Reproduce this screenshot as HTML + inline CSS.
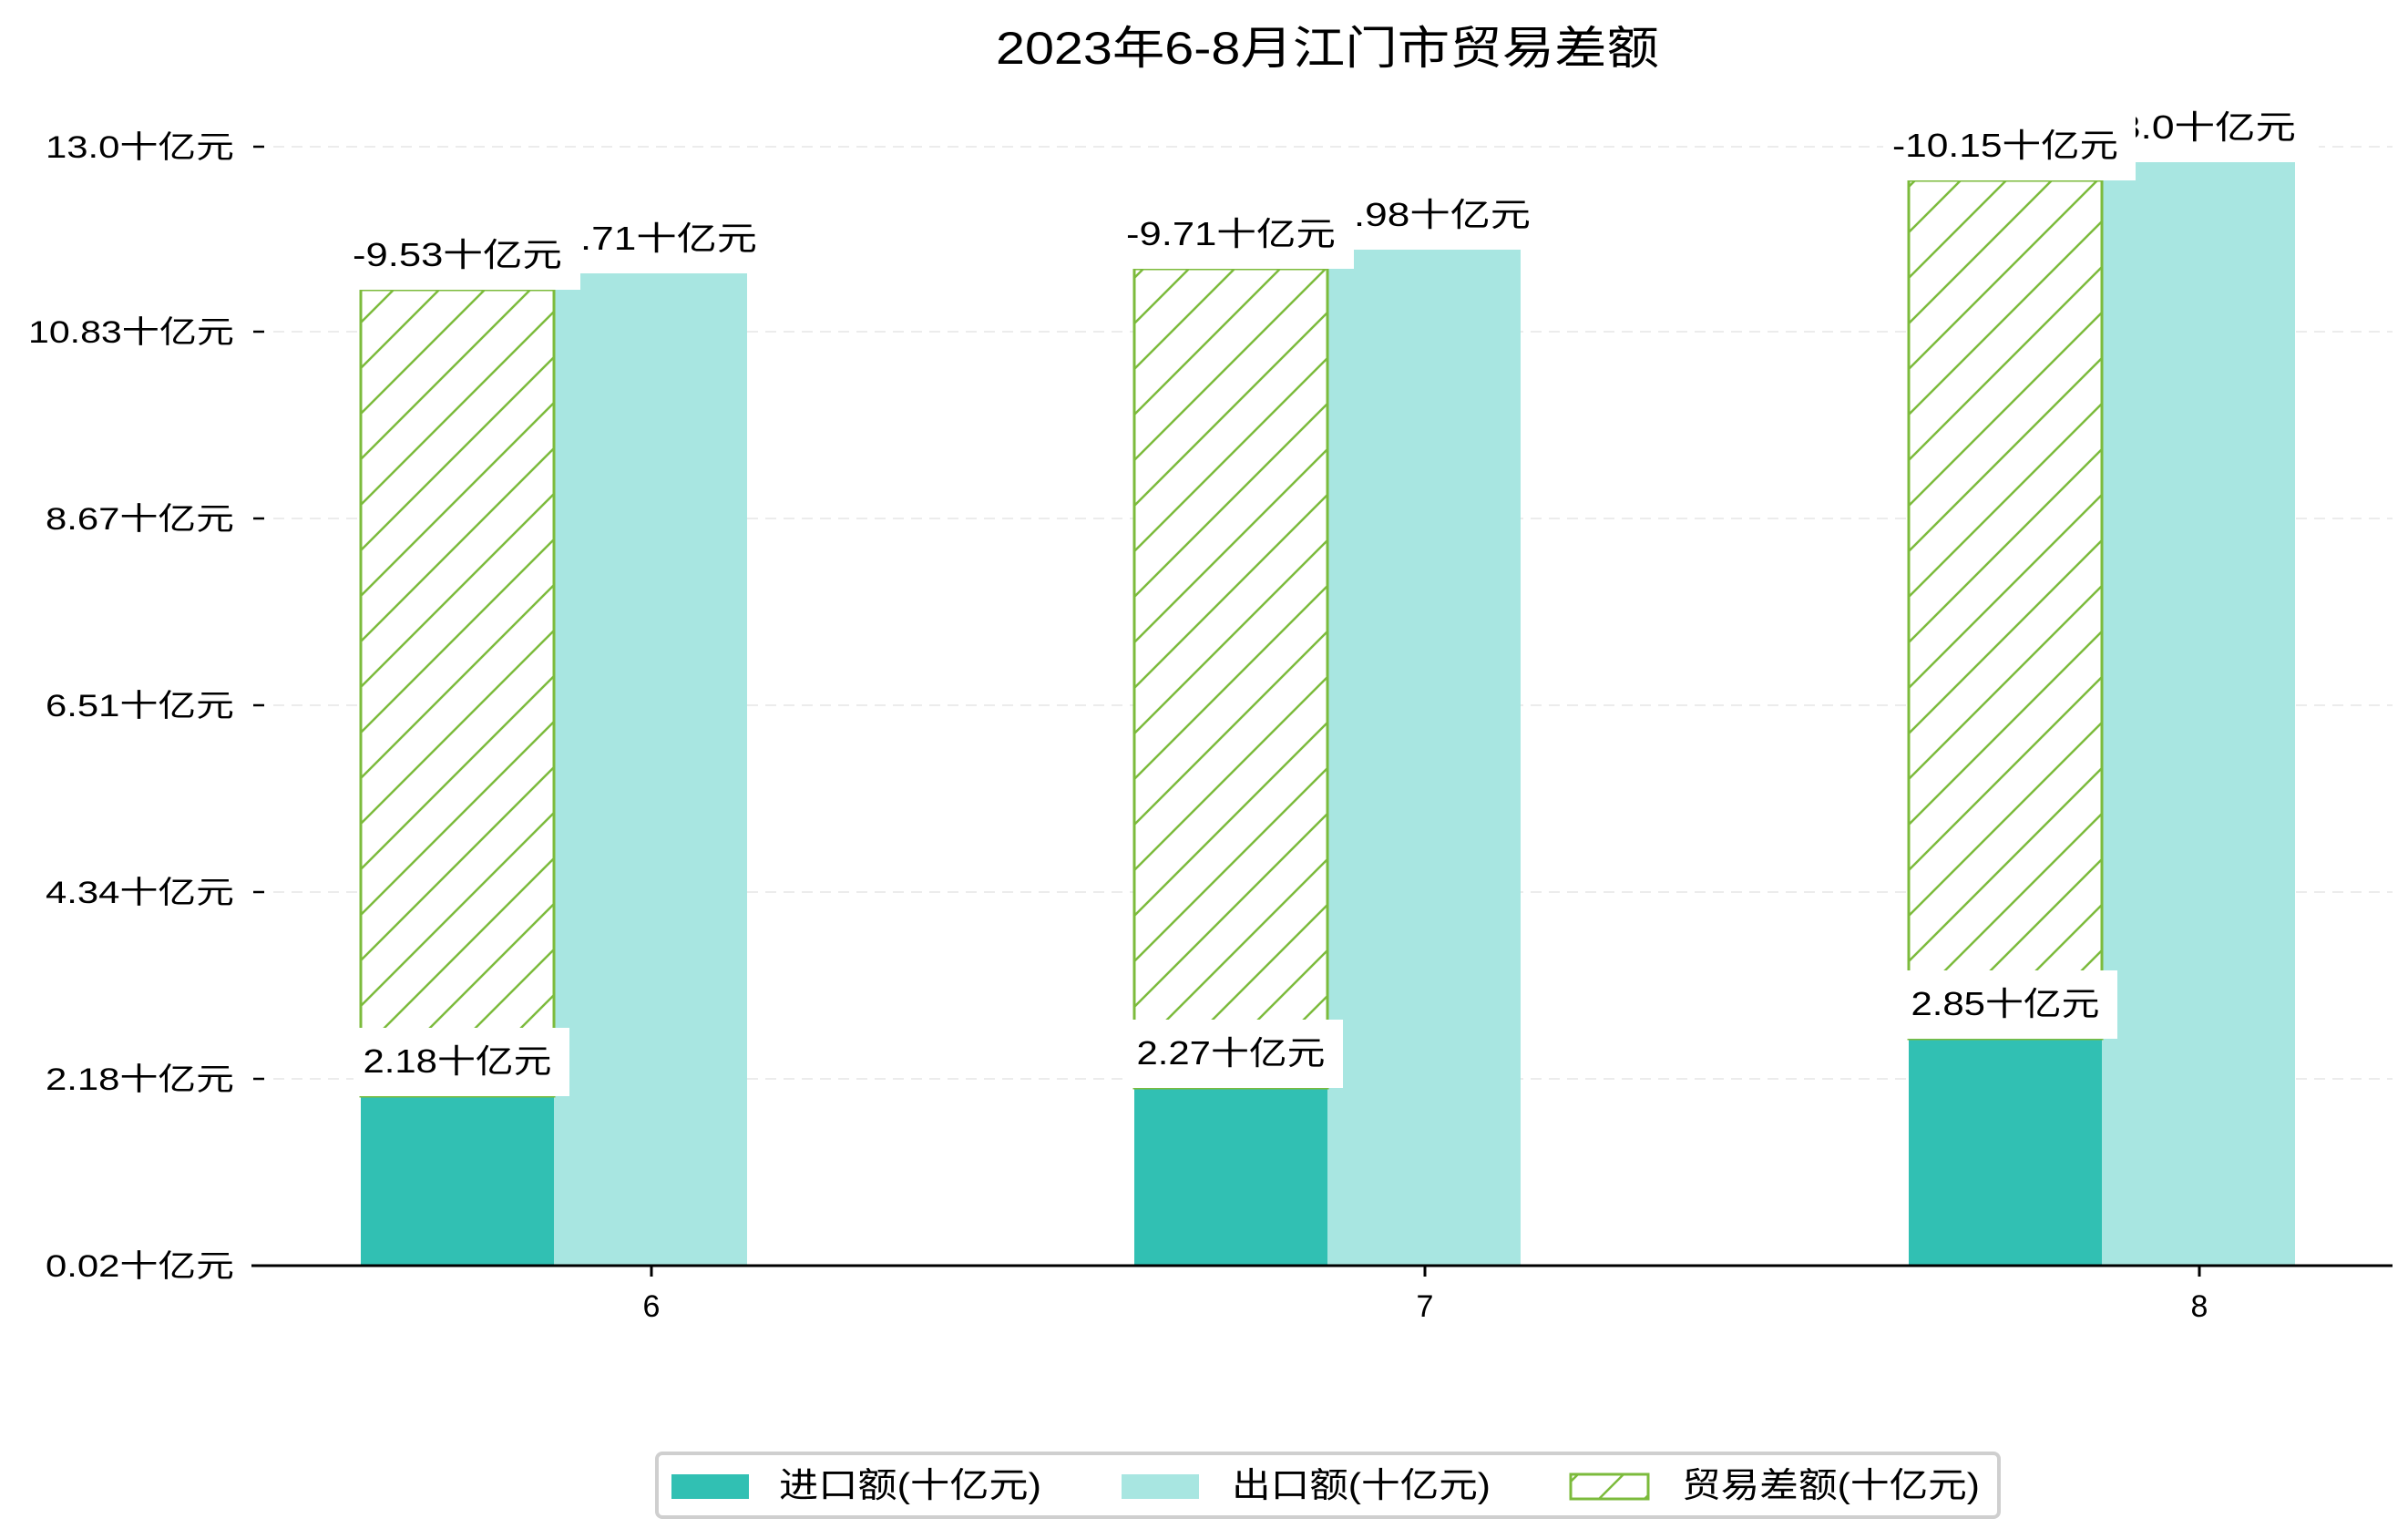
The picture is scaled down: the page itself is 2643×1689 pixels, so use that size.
<!DOCTYPE html>
<html><head><meta charset="utf-8"><style>
html,body{margin:0;padding:0;background:#fff}
svg{display:block}
text{font-family:"Liberation Sans","Noto Sans CJK SC",sans-serif;fill:#000}
</style></head><body>
<svg width="2643" height="1689" viewBox="0 0 2643 1689" xmlns="http://www.w3.org/2000/svg">
<defs>
<pattern id="h" patternUnits="userSpaceOnUse" width="50" height="50">
<rect width="50" height="50" fill="#fff"/>
<path d="M-10 10 L10 -10 M0 50 L50 0 M40 60 L60 40" stroke="#7cbb3c" stroke-width="2.5"/>
</pattern>
</defs>
<text x="1457" y="70" font-size="50" text-anchor="middle" textLength="728" lengthAdjust="spacingAndGlyphs">2023年6-8月江门市贸易差额</text>
<g stroke="#ececec" stroke-width="2" stroke-dasharray="12,8">
<line x1="300" x2="2626" y1="161" y2="161"/><line x1="300" x2="2626" y1="364" y2="364"/>
<line x1="300" x2="2626" y1="569" y2="569"/><line x1="300" x2="2626" y1="774" y2="774"/>
<line x1="300" x2="2626" y1="979" y2="979"/><line x1="300" x2="2626" y1="1184" y2="1184"/>
</g>
<g stroke="#000" stroke-width="2.5">
<line x1="278" x2="290" y1="161" y2="161"/><line x1="278" x2="290" y1="364" y2="364"/>
<line x1="278" x2="290" y1="569" y2="569"/><line x1="278" x2="290" y1="774" y2="774"/>
<line x1="278" x2="290" y1="979" y2="979"/><line x1="278" x2="290" y1="1184" y2="1184"/>
</g>
<g font-size="34" text-anchor="end">
<text x="257" y="173" textLength="207" lengthAdjust="spacingAndGlyphs">13.0十亿元</text>
<text x="257" y="376" textLength="226" lengthAdjust="spacingAndGlyphs">10.83十亿元</text>
<text x="257" y="581" textLength="207" lengthAdjust="spacingAndGlyphs">8.67十亿元</text>
<text x="257" y="786" textLength="207" lengthAdjust="spacingAndGlyphs">6.51十亿元</text>
<text x="257" y="991" textLength="207" lengthAdjust="spacingAndGlyphs">4.34十亿元</text>
<text x="257" y="1196" textLength="207" lengthAdjust="spacingAndGlyphs">2.18十亿元</text>
<text x="257" y="1401" textLength="207" lengthAdjust="spacingAndGlyphs">0.02十亿元</text>
</g>
<rect x="396" y="1203" width="212" height="186" fill="#31c0b3"/>
<rect x="608" y="300" width="212" height="1089" fill="#a8e6e1"/>
<rect x="396" y="318" width="212" height="885" fill="url(#h)" stroke="#7cbb3c" stroke-width="3"/>
<rect x="1245" y="1194" width="212" height="195" fill="#31c0b3"/>
<rect x="1457" y="274" width="212" height="1115" fill="#a8e6e1"/>
<rect x="1245" y="295" width="212" height="899" fill="url(#h)" stroke="#7cbb3c" stroke-width="3"/>
<rect x="2095" y="1140" width="212" height="249" fill="#31c0b3"/>
<rect x="2307" y="178" width="212" height="1211" fill="#a8e6e1"/>
<rect x="2095" y="198" width="212" height="942" fill="url(#h)" stroke="#7cbb3c" stroke-width="3"/>
<g font-size="36" text-anchor="middle">
<rect x="584" y="225" width="262" height="75" fill="#fff"/><text x="711" y="274" textLength="240" lengthAdjust="spacingAndGlyphs">11.71十亿元</text>
<rect x="378" y="243" width="259" height="75" fill="#fff"/><text x="502" y="292" textLength="230" lengthAdjust="spacingAndGlyphs">-9.53十亿元</text>
<rect x="388" y="1128" width="237" height="75" fill="#fff"/><text x="502" y="1177" textLength="207" lengthAdjust="spacingAndGlyphs">2.18十亿元</text>
<rect x="1433" y="199" width="262" height="75" fill="#fff"/><text x="1560" y="248" textLength="240" lengthAdjust="spacingAndGlyphs">11.98十亿元</text>
<rect x="1227" y="220" width="259" height="75" fill="#fff"/><text x="1351" y="269" textLength="230" lengthAdjust="spacingAndGlyphs">-9.71十亿元</text>
<rect x="1237" y="1119" width="237" height="75" fill="#fff"/><text x="1351" y="1168" textLength="207" lengthAdjust="spacingAndGlyphs">2.27十亿元</text>
<rect x="2283" y="103" width="262" height="75" fill="#fff"/><text x="2410" y="152" textLength="220" lengthAdjust="spacingAndGlyphs">13.0十亿元</text>
<rect x="2067" y="123" width="277" height="75" fill="#fff"/><text x="2201" y="172" textLength="248" lengthAdjust="spacingAndGlyphs">-10.15十亿元</text>
<rect x="2087" y="1065" width="237" height="75" fill="#fff"/><text x="2201" y="1114" textLength="207" lengthAdjust="spacingAndGlyphs">2.85十亿元</text>
</g>
<line x1="276" x2="2626" y1="1389" y2="1389" stroke="#000" stroke-width="3"/>
<g stroke="#000" stroke-width="3">
<line x1="715" x2="715" y1="1389" y2="1401"/><line x1="1564" x2="1564" y1="1389" y2="1401"/><line x1="2414" x2="2414" y1="1389" y2="1401"/>
</g>
<g font-size="34" text-anchor="middle">
<text x="715" y="1445">6</text><text x="1564" y="1445">7</text><text x="2414" y="1445">8</text>
</g>
<rect x="721" y="1595" width="1473" height="70" rx="6" fill="#fff" stroke="#cfcfcf" stroke-width="4"/>
<rect x="737" y="1618" width="85" height="27" fill="#31c0b3"/>
<rect x="1231" y="1618" width="85" height="27" fill="#a8e6e1"/>
<rect x="1724" y="1618" width="85" height="27" fill="url(#h)" stroke="#7cbb3c" stroke-width="3"/>
<g font-size="38">
<text x="855" y="1643" textLength="288" lengthAdjust="spacingAndGlyphs">进口额(十亿元)</text>
<text x="1352" y="1643" textLength="284" lengthAdjust="spacingAndGlyphs">出口额(十亿元)</text>
<text x="1846" y="1643" textLength="327" lengthAdjust="spacingAndGlyphs">贸易差额(十亿元)</text>
</g>
</svg>
</body></html>
